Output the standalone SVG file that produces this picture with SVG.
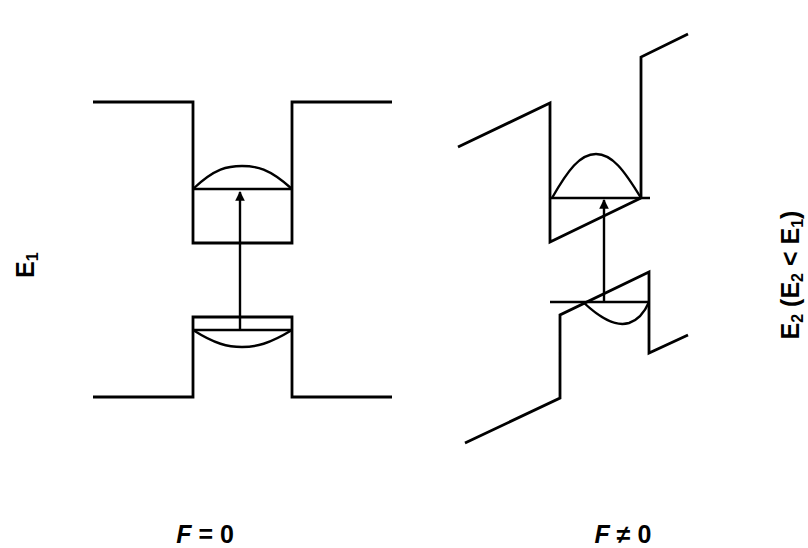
<svg xmlns="http://www.w3.org/2000/svg" width="808" height="548" viewBox="0 0 808 548">
<style>
.band{fill:none;stroke:#000;stroke-width:2.8;stroke-linejoin:miter}
.lvl{fill:none;stroke:#000;stroke-width:2.6}
.wf{fill:none;stroke:#000;stroke-width:2.4}
.arr{fill:none;stroke:#000;stroke-width:2.4}
.lbl{font-family:"Liberation Sans",Arial,sans-serif;font-weight:bold;font-size:25px;fill:#000}
</style>
<defs>
<marker id="ah" viewBox="0 0 10 10" refX="9" refY="5" markerWidth="4" markerHeight="4" orient="auto" markerUnits="strokeWidth">
<path d="M0,0 L10,5 L0,10 z" fill="#000"/>
</marker>
</defs>
<rect width="808" height="548" fill="#fff"/>
<g id="left-well">
<polyline class="band" points="93,102 193,102 193,243 292,243 292,102 392,102"/>
<line class="lvl" x1="193" y1="189" x2="292" y2="189"/>
<path class="wf" d="M193,189 C215,168 228,166 242,166 C256,166 269,168 292,189"/>
</g>
<g id="left-barrier">
<polyline class="band" points="93,397 193,397 193,317 292,317 292,397 392,397"/>
<line class="lvl" x1="193" y1="330" x2="292" y2="330"/>
<path class="wf" d="M193,330 C215,344 228,347 242,347 C256,347 269,344 292,330"/>
</g>
<g id="right-well">
<polyline class="band" points="458,147 550,103 550,242 641,198"/>
<polyline class="band" points="641,198 641,57 688,34"/>
<line class="lvl" x1="550" y1="198" x2="650" y2="198"/>
<path class="wf" d="M552,198 C568,170 580,154 596,154 C612,154 624,170 641,198"/>
</g>
<g id="right-barrier">
<polyline class="band" points="465,443 560,398 560,315 649,272 649,353 688,335"/>
<line class="lvl" x1="550" y1="302" x2="649" y2="302"/>
<path class="wf" d="M583,302 C600,318 615,327 629,323 C641,319 646,309 649,302"/>
</g>
<g id="connectors">
<line class="arr" x1="240" y1="330" x2="240" y2="192" marker-end="url(#ah)"/>
<line class="arr" x1="604" y1="302" x2="604" y2="200" marker-end="url(#ah)"/>
</g>
<g id="labels">
<text class="lbl" transform="translate(34,278) rotate(-90)">E<tspan font-size="16" dy="4">1</tspan></text>
<text class="lbl" text-anchor="middle" transform="translate(799,275) rotate(-90)">E<tspan font-size="16" dy="4">2</tspan><tspan dy="-4"> (E</tspan><tspan font-size="16" dy="4">2</tspan><tspan dy="-4"> &lt; E</tspan><tspan font-size="16" dy="4">1</tspan><tspan dy="-4">)</tspan></text>
<text class="lbl" x="205" y="543" text-anchor="middle"><tspan font-style="italic">F</tspan> = 0</text>
<text class="lbl" x="623" y="543" text-anchor="middle"><tspan font-style="italic">F</tspan> ≠ 0</text>
</g>
</svg>
